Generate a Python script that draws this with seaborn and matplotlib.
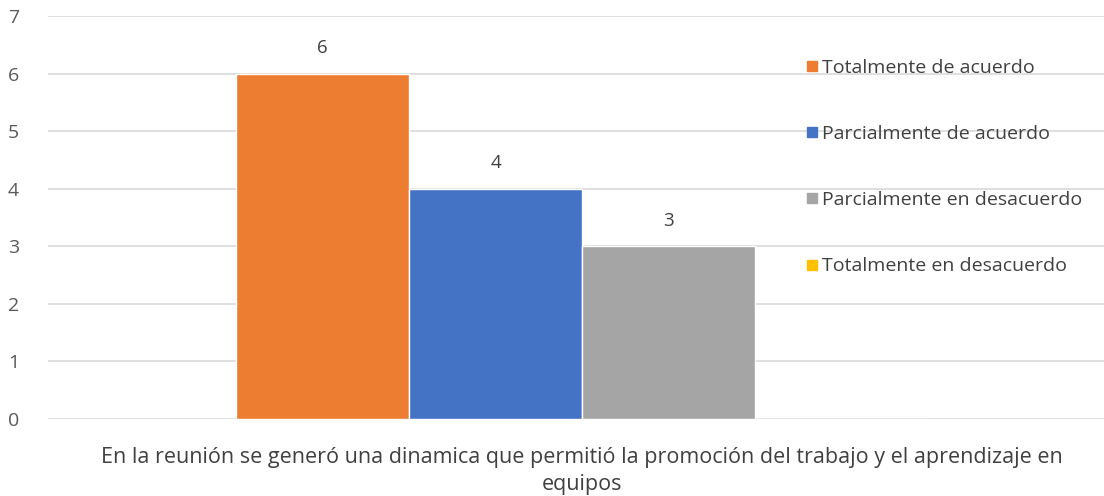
import matplotlib
matplotlib.use("Agg")
import matplotlib.pyplot as plt
from matplotlib.lines import Line2D
import seaborn as sns
import pandas as pd

# Survey question and responses
question = ["En la reunión se generó una dinamica que permitió la promoción del trabajo y el aprendizaje en\nequipos"]
responses = ["Totalmente de acuerdo", "Parcialmente de acuerdo",
             "Parcialmente en desacuerdo", "Totalmente en desacuerdo"]
counts = [6, 4, 3, 0]
colors = ["#ED7D31", "#4472C4", "#A5A5A5", "#FFC000"]
y_ticks = [0, 1, 2, 3, 4, 5, 6, 7]

df = pd.DataFrame({"pregunta": question * len(responses),
                   "respuesta": responses,
                   "cantidad": counts})

sns.set_theme(style="white")
plt.rcParams["font.family"] = ["Open Sans", "DejaVu Sans"]

fig = plt.figure(figsize=(11.04, 4.96), dpi=100)
ax = fig.add_axes([48 / 1104, 77 / 496, (1104 - 48) / 1104, 403 / 496])

sns.barplot(data=df, x="pregunta", y="cantidad", hue="respuesta",
            hue_order=responses, palette=colors, width=1.0,
            saturation=1, ax=ax, legend=False, zorder=3)

ax.set_xlim(-0.7717, 0.7543)
ax.set_ylim(0, 7)
ax.set_yticks(y_ticks)
ax.set_yticklabels([str(t) for t in y_ticks])
ax.yaxis.grid(True, color="#D9D9D9", linewidth=1.2, zorder=0)
ax.set_axisbelow(True)
for s in ax.spines.values():
    s.set_visible(False)
ax.tick_params(axis="y", length=0, pad=21, labelsize=14, labelcolor="#595959")
ax.tick_params(axis="x", length=0, pad=20, labelsize=15.5, labelcolor="#404040")
ax.set_xlabel("")
ax.set_ylabel("")
for lbl in ax.get_xticklabels():
    lbl.set_linespacing(1.4)

# Value labels above the non-empty bars
for container in ax.containers:
    vals = [p.get_height() for p in container]
    ax.bar_label(container, labels=[f"{v:g}" if v > 0 else "" for v in vals],
                 padding=12, fontsize=13.5, color="#404040")

handles = [Line2D([0], [0], marker="s", linestyle="none", markersize=7.5,
                  markerfacecolor=c, markeredgecolor=c) for c in colors]
fig.legend(handles, responses, loc="upper left",
           bbox_to_anchor=(798 / 1104, 1 - 51 / 496), frameon=False,
           fontsize=14, labelcolor="#404040", handlelength=0.6,
           handletextpad=0.25, labelspacing=2.48, borderaxespad=0)

fig.savefig("out.png", dpi=100)
